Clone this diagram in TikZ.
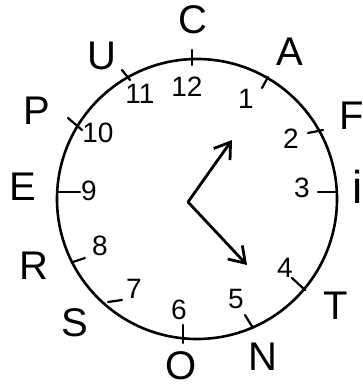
\documentclass[tikz,border=0pt]{standalone}
\usepackage{fontspec}
\setmainfont{Liberation Sans}
\usetikzlibrary{arrows.meta}

\begin{document}
\begin{tikzpicture}[x=1pt, y=-1pt,
  letter/.style={inner sep=0pt, font=\fontsize{40}{40}\selectfont},
  numeral/.style={inner sep=0pt, font=\fontsize{28}{28}\selectfont},
  rim/.style={line width=2.6pt},
  hourtick/.style={line width=2.2pt, line cap=round},
  hand/.style={line width=2.8pt, line cap=round, line join=round, -{Straight Barb[length=15pt, width=20pt]}},
]
  \useasboundingbox (0,0) rectangle (363,390);

  % Dial
  \coordinate (centre) at (197,199);
  \draw[rim] (centre) circle[radius=140pt];

  % Hour ticks
  \draw[hourtick] (192,50) -- (192,65);
  \draw[hourtick] (262,88) -- (268,77);
  \draw[hourtick] (308,133) -- (323,130);
  \draw[hourtick] (318,192) -- (337,192);
  \draw[hourtick] (292,278) -- (305,290);
  \draw[hourtick] (245,315) -- (253,328);
  \draw[hourtick] (183,325) -- (183,343);
  \draw[hourtick] (108,302) -- (122,300);
  \draw[hourtick] (73,262) -- (85,258);
  \draw[hourtick] (57,192) -- (80,192);
  \draw[hourtick] (68,118) -- (82,130);
  \draw[hourtick] (122,70) -- (130,80);

  % Numbers
  \node[numeral] (n12) at (187,87) {12};
  \node[numeral] (n1) at (246,99) {1};
  \node[numeral] (n2) at (291,139) {2};
  \node[numeral] (n3) at (302,188) {3};
  \node[numeral] (n4) at (285,268) {4};
  \node[numeral] (n5) at (236,299) {5};
  \node[numeral] (n6) at (179,310) {6};
  \node[numeral] (n7) at (134,289) {7};
  \node[numeral] (n8) at (100,246) {8};
  \node[numeral] (n9) at (89,191) {9};
  \node[numeral] (n10) at (98,133) {10};
  \node[numeral] (n11) at (140,94) {11};

  % Letters
  \node[letter] (lc) at (193,20) {C};
  \node[letter] (la) at (290,52) {A};
  \node[letter] (lf) at (352,116) {F};
  \node[letter, font=\fontsize{46}{46}\selectfont, anchor=base east] (li) at (363,203) {i};
  \node[letter] (lt) at (336,306) {T};
  \node[letter] (ln) at (263,357) {N};
  \node[letter] (lo) at (181,366) {O};
  \node[letter] (ls) at (75,323) {S};
  \node[letter] (lr) at (34,266) {R};
  \node[letter] (le) at (23,187) {E};
  \node[letter] (lp) at (37,111) {P};
  \node[letter] (lu) at (102,56) {U};

  % Hands
  \coordinate (pivot) at (188,202);
  \coordinate (hourtip) at (232,140);
  \coordinate (minutetip) at (247,265);
  \draw[hand] (pivot) -- (hourtip);
  \draw[hand] (pivot) -- (minutetip);

\end{tikzpicture}
\end{document}
